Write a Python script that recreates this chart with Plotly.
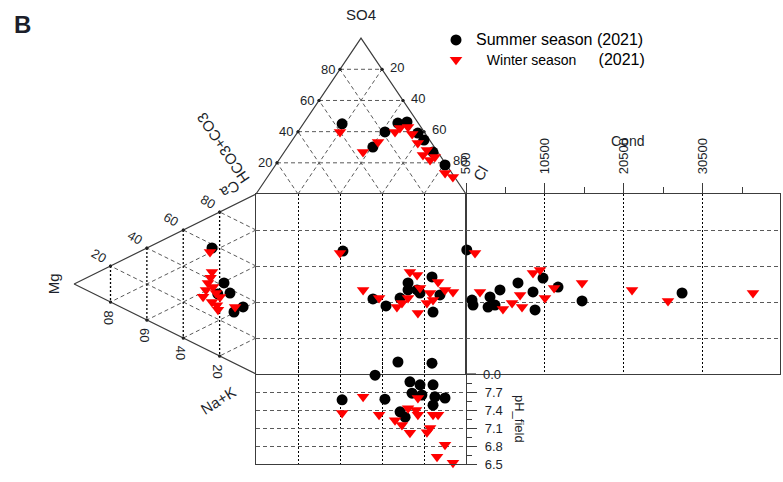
import numpy as np
import plotly.graph_objects as go

# ---------------- data ----------------
# Anion triangle (top): SO4 %, Cl %   (HCO3+CO3 = remainder)
sum_so4 = [45.0, 39.8, 30.1, 45.5, 46.2, 39.1, 26.9, 18.6, 34.6]
sum_cl = [18.5, 41.5, 40.6, 44.8, 48.8, 57.5, 70.8, 80.7, 62.7]
win_so4 = [39.8, 26.9, 33.4, 39.8, 43.0, 38.5, 32.7, 25.0, 21.8, 23.7, 13.5, 10.9, 28.2, 42.3]
win_cl = [20.1, 37.5, 41.4, 46.3, 50.9, 55.1, 60.7, 67.0, 72.0, 73.3, 83.3, 88.3, 67.3, 47.4]

# Cation triangle (left): Mg %, Na+K %   (Ca = remainder)
sum_mg = [24.2, 17.6, 14.3, 7.1, 12.1, 21.0]
sum_nak = [17.9, 40.6, 47.9, 59.2, 59.5, 45.0]
win_mg = [25.3, 24.2, 26.4, 29.1, 24.2, 20.9, 19.8, 11.5, 23.6, 27.5, 22.0, 25.0, 21.5]
win_nak = [19.6, 31.2, 36.2, 42.6, 47.9, 53.9, 47.3, 57.0, 39.9, 39.6, 44.0, 34.0, 51.0]

# Central square: anion position (x %), cation position (y %)
sum_sq_x = [41.4, 55.7, 61.9, 68.6, 72.4, 72.4, 76.7, 78.1, 83.8, 84.3, 87.6]
sum_sq_y = [31.7, 58.3, 62.2, 57.8, 49.4, 53.3, 53.3, 55.0, 46.1, 65.6, 56.1]
win_sq_x = [40.0, 51.0, 58.6, 67.1, 69.5, 72.4, 73.3, 76.7, 78.1, 77.1, 81.4, 84.3, 86.7, 90.0, 93.8, 82.9]
win_sq_y = [32.8, 53.3, 57.8, 62.8, 60.6, 57.8, 43.3, 45.0, 52.2, 66.1, 60.6, 58.9, 48.9, 53.3, 54.4, 55.0]

# Right panel: conductivity vs cation position
sum_cond = [600, 1260, 1390, 3290, 4800, 3540, 7080, 8980, 9240, 10250, 12150, 15190, 27850, 4170]
sum_cond_y = [31.1, 58.9, 61.7, 62.8, 53.3, 57.2, 49.4, 54.4, 64.4, 46.7, 51.7, 59.4, 55.0, 61.7]
win_cond = [1640, 2270, 5180, 6330, 7350, 7590, 8980, 9870, 10500, 11650, 15190, 21520, 26070, 36830]
win_cond_y = [32.8, 54.4, 63.9, 60.6, 56.1, 62.8, 43.9, 42.2, 57.8, 52.2, 49.4, 53.3, 59.4, 55.0]

# Bottom panel: anion position vs field pH
sum_ph_x = [67.6, 83.8, 56.7, 41.0, 61.4, 73.3, 78.1, 84.3, 74.3, 79.0, 85.2, 90.0, 68.6, 71.0, 84.3]
sum_ph = [8.20, 8.18, 7.98, 7.57, 7.58, 7.87, 7.82, 7.82, 7.68, 7.65, 7.62, 7.60, 7.37, 7.28, 7.48]
win_ph_x = [51.0, 41.0, 58.6, 77.1, 72.4, 77.1, 66.2, 69.5, 73.3, 81.4, 82.9, 84.3, 86.7, 90.0, 86.2, 93.8, 76.2]
win_ph = [7.62, 7.35, 7.32, 7.60, 7.43, 7.32, 7.23, 7.15, 7.02, 7.03, 7.10, 7.32, 7.32, 6.82, 6.62, 6.52, 7.40]

levels = [20, 40, 60, 80]
cond_major = [500, 10500, 20500, 30500]
cond_minor = [5500, 15500, 25500, 35500]
ph_ticks = [6.5, 6.8, 7.1, 7.4, 7.7, 8.0]
ph_text = ["6.5", "6.8", "7.1", "7.4", "7.7", "0.0"]
ph_minor = [6.65, 6.95, 7.25, 7.55, 7.85]

# ---------------- geometry ----------------
W, H = 783, 482
SQ_L, SQ_R, SQ_T, SQ_B = 256, 466, 194, 374
RP_R = 780
BP_B = 464
PH_LO, PH_HI, PH_TOP = 6.5, 8.0, 8.25          # pH panel: frame 6.5-8.0, room above for >8
KX = (SQ_R - SQ_L) / 100.0
KY = (SQ_B - SQ_T) / 100.0
KPH = (BP_B - SQ_B) / (PH_HI - PH_LO)
S3 = np.sqrt(3) / 2

FONT = "Liberation Sans, Arial, sans-serif"
TXT = "#1c1f2a"
LINE = "#3c3c3c"
GRAY = "#5a5a5a"
BLACK = "#000000"
RED = "#ff0000"


def top_uv(so4, cl):
    so4 = np.asarray(so4, float)
    cl = np.asarray(cl, float)
    return cl + so4 / 2, -S3 * so4


def left_uv(mg, nak):
    mg = np.asarray(mg, float)
    nak = np.asarray(nak, float)
    return -S3 * mg, nak + mg / 2


def segs(lst):
    xs, ys = [], []
    for a, b in lst:
        xs += [a[0], b[0], None]
        ys += [a[1], b[1], None]
    return xs, ys


fig = go.Figure()

# triangle grids (overlay axes x4/y4, square units)
dash_segs = [((k / 2, -S3 * k), (100 - k / 2, -S3 * k)) for k in levels]
dash_segs += [((k, 0), (k + (100 - k) / 2, -S3 * (100 - k))) for k in levels]
dash_segs += [((100 - k, 0), ((100 - k) / 2, -S3 * (100 - k))) for k in levels]
dash_segs += [((0, 100 - k), (-S3 * (100 - k), (100 - k) / 2)) for k in levels]
dash_segs += [((0, k), (-S3 * (100 - k), k + (100 - k) / 2)) for k in levels]
xs, ys = segs(dash_segs)
fig.add_trace(go.Scatter(x=xs, y=ys, mode="lines", xaxis="x4", yaxis="y4",
                         line=dict(color=GRAY, width=1, dash="4px,3px"),
                         hoverinfo="skip", showlegend=False))
dot_segs = [((-S3 * k, k / 2), (-S3 * k, 100 - k / 2)) for k in levels]
xs, ys = segs(dot_segs)
fig.add_trace(go.Scatter(x=xs, y=ys, mode="lines", xaxis="x4", yaxis="y4",
                         line=dict(color=BLACK, width=1.3, dash="2px,2px"),
                         hoverinfo="skip", showlegend=False))
# outlines
fig.add_trace(go.Scatter(x=[0, 50, 100, None, 0, -S3 * 100, 0],
                         y=[0, -S3 * 100, 0, None, 0, 50, 100],
                         mode="lines", xaxis="x4", yaxis="y4",
                         line=dict(color=LINE, width=1.2),
                         hoverinfo="skip", showlegend=False))
# small tick dots where grid lines meet the triangle edges
edge_pts = [p for s in dash_segs + dot_segs for p in s if abs(p[0]) > 1e-9 and abs(p[1]) > 1e-9]
fig.add_trace(go.Scatter(x=[p[0] for p in edge_pts], y=[p[1] for p in edge_pts], mode="markers",
                         xaxis="x4", yaxis="y4", marker=dict(symbol="circle", size=3, color="#222"),
                         hoverinfo="skip", showlegend=False))

MS_C = 11
MS_T = 11
circ = dict(symbol="circle", size=MS_C, color=BLACK)
tri = dict(symbol="triangle-down", size=MS_T, color=RED)

summer_name = "<span style='font-size:16px'>Summer season (2021)</span>"
winter_name = ("\u00a0\u00a0\u00a0<span style='font-size:14px'>Winter season</span>"
               "<span style='font-size:16px'>" + "\u00a0" * 5 + "(2021)</span>")

# --- summer (black) ---
u, v = top_uv(sum_so4, sum_cl)
fig.add_trace(go.Scatter(x=u, y=v, mode="markers", marker=circ, xaxis="x4", yaxis="y4",
                         name=summer_name, showlegend=True))
u, v = left_uv(sum_mg, sum_nak)
fig.add_trace(go.Scatter(x=u, y=v, mode="markers", marker=circ, xaxis="x4", yaxis="y4",
                         showlegend=False))
fig.add_trace(go.Scatter(x=sum_sq_x, y=sum_sq_y, mode="markers", marker=circ,
                         xaxis="x", yaxis="y", showlegend=False))
fig.add_trace(go.Scatter(x=sum_cond, y=sum_cond_y, mode="markers", marker=circ,
                         xaxis="x2", yaxis="y2", showlegend=False, cliponaxis=False))
fig.add_trace(go.Scatter(x=sum_ph_x, y=sum_ph, mode="markers", marker=circ,
                         xaxis="x3", yaxis="y3", showlegend=False, cliponaxis=False))

# --- winter (red) ---
u, v = top_uv(win_so4, win_cl)
fig.add_trace(go.Scatter(x=u, y=v, mode="markers", marker=tri, xaxis="x4", yaxis="y4",
                         name=winter_name, showlegend=True))
u, v = left_uv(win_mg, win_nak)
fig.add_trace(go.Scatter(x=u, y=v, mode="markers", marker=tri, xaxis="x4", yaxis="y4",
                         showlegend=False))
fig.add_trace(go.Scatter(x=win_sq_x, y=win_sq_y, mode="markers", marker=tri,
                         xaxis="x", yaxis="y", showlegend=False))
fig.add_trace(go.Scatter(x=win_cond, y=win_cond_y, mode="markers", marker=tri,
                         xaxis="x2", yaxis="y2", showlegend=False, cliponaxis=False))
fig.add_trace(go.Scatter(x=win_ph_x, y=win_ph, mode="markers", marker=tri,
                         xaxis="x3", yaxis="y3", showlegend=False, cliponaxis=False))

# ---------------- axes ----------------
dx_sq = [SQ_L / W, SQ_R / W]
dy_sq = [1 - SQ_B / H, 1 - SQ_T / H]
dx_rp = [SQ_R / W, RP_R / W]
ph_top_px = SQ_B - (PH_TOP - PH_HI) * KPH
dy_bp = [1 - BP_B / H, 1 - ph_top_px / H]

frame = dict(showline=True, mirror=True, linecolor=LINE, linewidth=1.2, zeroline=False, automargin=False)
vgrid = dict(showgrid=True, gridcolor=BLACK, gridwidth=1.3, griddash="2px,2px")
hgrid = dict(showgrid=True, gridcolor=GRAY, gridwidth=1, griddash="4px,3px")
tickfont = dict(family=FONT, size=13, color=TXT)

fig.update_layout(
    xaxis=dict(domain=dx_sq, range=[0, 100], anchor="y", tickvals=levels, ticks="",
               showticklabels=False, **frame, **vgrid),
    yaxis=dict(domain=dy_sq, range=[100, 0], anchor="x", tickvals=levels, ticks="",
               showticklabels=False, **frame, **hgrid),
    xaxis2=dict(domain=dx_rp, range=[500, 40250], anchor="y2", side="top",
                tickvals=cond_major, ticktext=[str(c) for c in cond_major], tickangle=-90,
                ticks="outside", ticklen=10, tickcolor=LINE, tickfont=tickfont,
                ticklabelstandoff=6,
                minor=dict(tickvals=cond_minor, ticks="outside", ticklen=6, tickcolor=LINE, showgrid=False),
                **frame, **vgrid),
    yaxis2=dict(domain=dy_sq, range=[100, 0], anchor="x2", matches="y", tickvals=levels, ticks="",
                showticklabels=False, **frame, **hgrid),
    xaxis3=dict(domain=dx_sq, range=[0, 100], anchor="y3", matches="x", tickvals=levels, ticks="",
                showticklabels=False, showline=True, mirror=False, linecolor=LINE, linewidth=1.2,
                zeroline=False, automargin=False, **vgrid),
    yaxis3=dict(domain=dy_bp, range=[PH_LO, PH_TOP], anchor="x3", side="right",
                tickvals=[t for t in ph_ticks if t < PH_HI], ticks="outside", ticklen=10, tickcolor=LINE,
                ticktext=[s for t, s in zip(ph_ticks, ph_text) if t < PH_HI],
                tickfont=tickfont, ticklabelstandoff=5,
                minor=dict(tickvals=ph_minor, ticks="outside", ticklen=5, tickcolor=LINE, showgrid=False),
                **frame, **hgrid),
    xaxis4=dict(domain=[0, 1], range=[-SQ_L / KX, (W - SQ_L) / KX], anchor="y4", visible=False,
                automargin=False),
    yaxis4=dict(domain=[0, 1], range=[(H - SQ_T) / KY, -SQ_T / KY], anchor="x4", visible=False,
                automargin=False),
)

# ---------------- text ----------------
ann = []


def A(text, x, y, xref="x4", yref="y4", size=13, angle=0, xanchor="center", yanchor="middle",
      xshift=0, yshift=0, bold=False):
    ann.append(dict(text=("<b>%s</b>" % text) if bold else text, x=x, y=y, xref=xref, yref=yref,
                    showarrow=False, textangle=angle, xanchor=xanchor, yanchor=yanchor,
                    xshift=xshift, yshift=yshift, font=dict(family=FONT, size=size, color=TXT)))


# top triangle labels
A("SO4", 50, -S3 * 100, size=15, yshift=24)
for k in levels:
    A(str(k), k / 2, -S3 * k, xanchor="right", xshift=-3)
    A(str(k), k + (100 - k) / 2, -S3 * (100 - k), xanchor="left", xshift=6, yshift=2)
A("HCO3+CO3", (223 - SQ_L) / KX, (149 - SQ_T) / KY, size=15, angle=-124)
A("Cl", (480 - SQ_L) / KX, (173 - SQ_T) / KY, size=15, angle=-60)
# left triangle labels
A("Ca", (230 - SQ_L) / KX, (190 - SQ_T) / KY, size=15, angle=150)
A("Mg", -S3 * 100, 50, size=15, angle=-90, xshift=-21)
A("Na+K", (218 - SQ_L) / KX, (400 - SQ_T) / KY, size=15, angle=-32)
for k in levels:
    A(str(k), -S3 * (100 - k), (100 - k) / 2, angle=30, xshift=-12, yshift=11)
    A(str(k), -S3 * k, 100 - k / 2, angle=90, xshift=-2, yshift=-15)
# panel titles / top pH tick label
A("Cond", 0.5, 1, xref="x2 domain", yref="y2 domain", size=14, yshift=53, xshift=4)
A("pH_field", (SQ_R + 54) / W, (PH_LO + PH_HI) / 2, xref="paper", yref="y3", size=13, angle=90)
A(ph_text[-1], (SQ_R + 15) / W, PH_HI, xref="paper", yref="y3", xanchor="left")
# panel letter
A("B", 22 / W, 1 - 24 / H, xref="paper", yref="paper", size=24, bold=True)

# tick for pH 8.0 on the shared border
fig.add_shape(type="line", xref="paper", yref="y3", x0=SQ_R / W, x1=(SQ_R + 10) / W,
              y0=PH_HI, y1=PH_HI, line=dict(color=LINE, width=1.2))

fig.update_layout(
    annotations=ann,
    width=W, height=H, autosize=False,
    margin=dict(l=0, r=0, t=0, b=0, pad=0, autoexpand=False),
    paper_bgcolor="white", plot_bgcolor="rgba(0,0,0,0)",
    showlegend=True,
    legend=dict(x=436 / W, y=1 - 25 / H, xanchor="left", yanchor="top",
                font=dict(family=FONT, size=13, color=BLACK), bgcolor="rgba(0,0,0,0)",
                tracegroupgap=0, itemwidth=30),
)

fig.write_html("out.html", config={"displayModeBar": False},
               post_script="document.body.style.margin='0px';")
